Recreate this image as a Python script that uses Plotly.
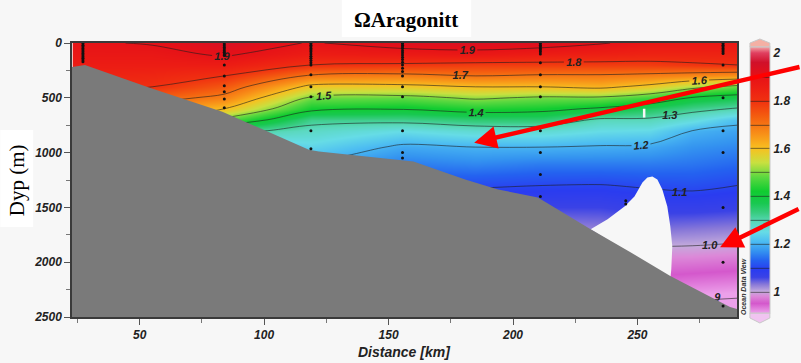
import plotly.graph_objects as go

# ---------------- data ----------------
X_KM = [23, 55, 84, 119, 156, 185, 212, 235, 255, 272, 290]
DEPTH = [0, 100, 200, 300, 400, 500, 600, 700, 800, 950, 1100, 1300, 1500, 1700, 1900, 2100, 2300, 2500]

# Omega aragonite profiles per grid column (top -> bottom)
C23 = [1.89, 1.88, 1.86, 1.84, 1.82, 1.79, 1.74, 1.68, 1.62, 1.52, 1.42, 1.30, 1.20, 1.12, 1.05, 1.00, 0.95, 0.92]
C55 = [1.905, 1.88, 1.86, 1.83, 1.80, 1.73, 1.66, 1.60, 1.50, 1.33, 1.23, 1.14, 1.08, 1.04, 1.00, 0.96, 0.92, 0.88]
C84 = [1.94, 1.91, 1.86, 1.80, 1.74, 1.68, 1.60, 1.48, 1.32, 1.20, 1.15, 1.09, 1.05, 1.02, 0.985, 0.95, 0.92, 0.88]
C119 = [1.895, 1.86, 1.80, 1.69, 1.58, 1.49, 1.42, 1.32, 1.28, 1.24, 1.19, 1.11, 1.06, 1.02, 0.985, 0.95, 0.92, 0.885]
C156 = [1.93, 1.87, 1.79, 1.68, 1.58, 1.48, 1.405, 1.32, 1.25, 1.19, 1.15, 1.11, 1.07, 1.03, 0.99, 0.95, 0.92, 0.885]
C185 = [1.935, 1.88, 1.78, 1.70, 1.60, 1.51, 1.43, 1.34, 1.27, 1.20, 1.16, 1.105, 1.065, 1.025, 0.985, 0.95, 0.92, 0.885]
C212 = [1.93, 1.86, 1.78, 1.69, 1.60, 1.49, 1.42, 1.34, 1.27, 1.20, 1.15, 1.10, 1.06, 1.02, 0.985, 0.95, 0.92, 0.885]
C235 = [1.905, 1.85, 1.78, 1.69, 1.615, 1.49, 1.39, 1.29, 1.25, 1.195, 1.15, 1.098, 1.06, 1.025, 0.99, 0.955, 0.92, 0.885]
C255 = [1.88, 1.84, 1.78, 1.68, 1.58, 1.455, 1.355, 1.29, 1.245, 1.19, 1.15, 1.105, 1.07, 1.035, 0.99, 0.955, 0.92, 0.885]
C272 = [1.875, 1.84, 1.79, 1.665, 1.52, 1.395, 1.32, 1.26, 1.20, 1.17, 1.145, 1.11, 1.07, 1.03, 0.99, 0.95, 0.91, 0.875]
C290 = [1.875, 1.84, 1.80, 1.65, 1.48, 1.37, 1.295, 1.215, 1.185, 1.16, 1.135, 1.10, 1.065, 1.025, 0.985, 0.945, 0.905, 0.87]
COLUMNS = [C23, C55, C84, C119, C156, C185, C212, C235, C255, C272, C290]

# extra contour labels seen in the picture (km, depth, text)
LABEL_KM = [178.8, 263.0, 267.0, 279.0, 281.5]
LABEL_DEPTH = [300, 664, 1370, 1850, 2330]
LABEL_TEXT = ["1.7", "1.3", "1.1", "1.0", ".9"]

# sea floor (gray) and no-data area (white)
BOTTOM_KM = [22.8, 28, 54, 83.2, 118, 122, 160, 180.8, 194, 210, 231.2, 247.2, 263.2, 287.2, 290]
BOTTOM_DEPTH = [218, 200, 409, 627, 973, 991, 1082, 1245, 1336, 1409, 1700, 1909, 2127, 2409, 2427]
GAP_KM = [231.2, 238, 244.8, 248.8, 252, 254, 256, 258, 260, 262, 263.2, 264, 263.6, 263.2]
GAP_DEPTH = [1700, 1609, 1491, 1400, 1273, 1227, 1218, 1245, 1336, 1491, 1673, 1855, 2064, 2155]

# stations and sample depths
STATION_KM = [27.2, 84, 118.8, 155.6, 211, 245.3, 284.4]
STATION_SAMPLES = [
    [5, 20, 35, 50, 65, 80, 95, 110, 125, 140, 155, 170],
    [10, 25, 40, 55, 70, 85, 100, 115, 200, 300, 390, 445, 510, 590],
    [5, 20, 35, 50, 65, 80, 100, 120, 140, 160, 180, 200, 290, 400, 490, 800, 965],
    [5, 20, 35, 50, 70, 90, 110, 130, 150, 175, 200, 230, 260, 300, 400, 490, 800, 1000, 1050],
    [5, 20, 35, 50, 65, 80, 100, 180, 290, 400, 490, 800, 1000, 1200, 1400],
    [1440, 1470],
    [5, 20, 35, 50, 65, 80, 95, 200, 500, 800, 1000, 1500, 2000, 2400],
]

CB_VALUES = [0.91, 0.95, 0.98, 1.00, 1.03, 1.06, 1.09, 1.13, 1.17, 1.21, 1.25, 1.29, 1.33,
             1.37, 1.42, 1.48, 1.54, 1.60, 1.66, 1.73, 1.80, 1.86, 1.91, 1.96, 2.00, 2.025]
CB_COLORS = ['#eca0ea', '#d458cc', '#dc88d8', '#c4aadc', '#8878d8', '#3a42e6', '#2a3cf0',
             '#2462f0', '#3494f0', '#4cbcf2', '#66dce6', '#5ad8bc', '#38cc80', '#18c850',
             '#10cc30', '#5cd840', '#c8e040', '#f8c020', '#f89018', '#f46010', '#f03010',
             '#ec1c14', '#e41018', '#d0102a', '#e04060', '#f2a4a4']
CB_TICKS = [1.0, 1.2, 1.4, 1.6, 1.8, 2.0]
CB_TICKTEXT = ['1', '1.2', '1.4', '1.6', '1.8', '2']
X_TICKS = [50, 100, 150, 200, 250]
Y_TICKS = [0, 500, 1000, 1500, 2000, 2500]

# ---------------- figure ----------------
W, H = 801, 363
L, R, T, B = 72, 61, 43, 46
PW, PH = W - L - R, H - T - B


def px(xp):
    return (xp - L) / PW


def py(yp):
    return (H - B - yp) / PH


zmin, zmax = CB_VALUES[0], CB_VALUES[-1]
colorscale = [[(v - zmin) / (zmax - zmin), c] for v, c in zip(CB_VALUES, CB_COLORS)]
z = [[col[i] for col in COLUMNS] for i in range(len(DEPTH))]

tickfont = dict(family="Liberation Sans, Arial", size=12, color="#222", weight="bold", style="italic")
labelfont = dict(family="Liberation Sans, Arial", size=11, color="#222", weight="bold", style="italic")

fig = go.Figure()
fig.add_trace(go.Contour(
    x=X_KM, y=DEPTH, z=z,
    colorscale=colorscale, zmin=zmin, zmax=zmax, zauto=False,
    contours=dict(coloring="heatmap", start=0.9, end=1.91, size=0.1, showlabels=True,
                  labelfont=labelfont, labelformat=".1f"),
    line=dict(color="rgba(30,30,30,0.85)", width=0.7, smoothing=1.0),
    colorbar=dict(x=px(753), xanchor="left", xpad=0, y=py(47), yanchor="top", ypad=0,
                  lenmode="pixels", len=266, thickness=20, outlinewidth=1, outlinecolor="#c8c8c8",
                  tickvals=CB_TICKS, ticktext=CB_TICKTEXT, ticks="", tickfont=tickfont),
    hoverinfo="skip",
))

# extra contour labels
fig.add_trace(go.Scatter(x=LABEL_KM, y=LABEL_DEPTH, mode="text", text=LABEL_TEXT,
                         textfont=labelfont, hoverinfo="skip", showlegend=False))

# no-data region
fig.add_trace(go.Scatter(x=GAP_KM, y=GAP_DEPTH, fill="toself", fillcolor="#f7f7f7",
                         mode="lines", line=dict(width=0), hoverinfo="skip", showlegend=False))
# sea floor
fig.add_trace(go.Scatter(x=BOTTOM_KM + [BOTTOM_KM[-1], BOTTOM_KM[0]],
                         y=BOTTOM_DEPTH + [2500, 2500], fill="toself", fillcolor="#7a7a7a",
                         mode="lines", line=dict(width=0), hoverinfo="skip", showlegend=False))
# station samples
sx, sy = [], []
for km, depths in zip(STATION_KM, STATION_SAMPLES):
    sx += [km] * len(depths)
    sy += depths
fig.add_trace(go.Scatter(x=sx, y=sy, mode="markers", marker=dict(color="#111", size=3),
                         hoverinfo="skip", showlegend=False))

fig.update_xaxes(range=[22.8, 290], tickvals=X_TICKS, ticks="outside", ticklen=6, tickcolor="#555",
                 minor=dict(dtick=25, tick0=0, ticks="outside", ticklen=4, tickcolor="#777"),
                 showgrid=False, zeroline=False, showline=True, linecolor="#3a3a3a", linewidth=1.5,
                 mirror=True, tickfont=tickfont)
fig.update_yaxes(range=[2500, 0], tickvals=Y_TICKS, ticks="outside", ticklen=6, tickcolor="#555",
                 minor=dict(dtick=250, tick0=0, ticks="outside", ticklen=4, tickcolor="#777"),
                 showgrid=False, zeroline=False, showline=True, linecolor="#3a3a3a", linewidth=1.5,
                 mirror=True, tickfont=tickfont)

shapes = [
    dict(type="rect", xref="paper", yref="paper", x0=px(0), x1=px(33), y0=py(227), y1=py(130),
         fillcolor="white", line=dict(width=0), layer="below"),
    dict(type="rect", xref="paper", yref="paper", x0=px(343), x1=px(473), y0=py(37), y1=py(0),
         fillcolor="white", line=dict(width=0), layer="below"),
    # colorbar end caps
    dict(type="path", xref="paper", yref="paper",
         path=f"M {px(753)} {py(47)} L {px(753)} {py(43)} L {px(763)} {py(39)} L {px(773)} {py(43)} L {px(773)} {py(47)} Z",
         fillcolor="#f4b0a4", line=dict(color="#c8c8c8", width=1)),
    dict(type="path", xref="paper", yref="paper",
         path=f"M {px(753)} {py(313)} L {px(753)} {py(318)} L {px(763)} {py(323)} L {px(773)} {py(318)} L {px(773)} {py(313)} Z",
         fillcolor="#f0c4f0", line=dict(color="#c8c8c8", width=1)),
    # small no-data speck
    dict(type="rect", xref="x", yref="y", x0=252.2, x1=253.2, y0=600, y1=680,
         fillcolor="#f7f7f7", line=dict(width=0)),
]

annotations = [
    dict(text="ΩAragonitt", xref="paper", yref="paper", x=px(408), y=py(20), showarrow=False,
         xanchor="center", yanchor="middle",
         font=dict(family="Liberation Serif, Times New Roman", size=21, color="black", weight="bold")),
    dict(text="Dyp (m)", xref="paper", yref="paper", x=px(17), y=py(180), showarrow=False, textangle=-90,
         xanchor="center", yanchor="middle",
         font=dict(family="Liberation Serif, Times New Roman", size=21, color="black")),
    dict(text="Distance [km]", xref="paper", yref="paper", x=px(406), y=py(352), showarrow=False,
         xanchor="center", yanchor="middle",
         font=dict(family="Liberation Sans, Arial", size=14, color="#222", weight="bold", style="italic")),
    dict(text="Ocean Data View", xref="paper", yref="paper", x=px(746), y=py(286), showarrow=False,
         textangle=-90, xanchor="center", yanchor="middle",
         font=dict(family="Liberation Sans, Arial", size=7, color="#333", weight="bold", style="italic")),
    dict(text="", x=184.4, y=909, xref="x", yref="y", ax=330, ay=-76, showarrow=True,
         arrowhead=2, arrowsize=1.0, arrowwidth=4.5, arrowcolor="#ff0000", standoff=0),
    dict(text="", x=283.2, y=1864, xref="x", yref="y", ax=80, ay=-39, showarrow=True,
         arrowhead=2, arrowsize=1.0, arrowwidth=4.5, arrowcolor="#ff0000", standoff=0),
]

fig.update_layout(width=W, height=H, margin=dict(l=L, r=R, t=T, b=B),
                  paper_bgcolor="#f7f7f7", plot_bgcolor="#f7f7f7", showlegend=False,
                  shapes=shapes, annotations=annotations)
fig.write_html("out.html")
